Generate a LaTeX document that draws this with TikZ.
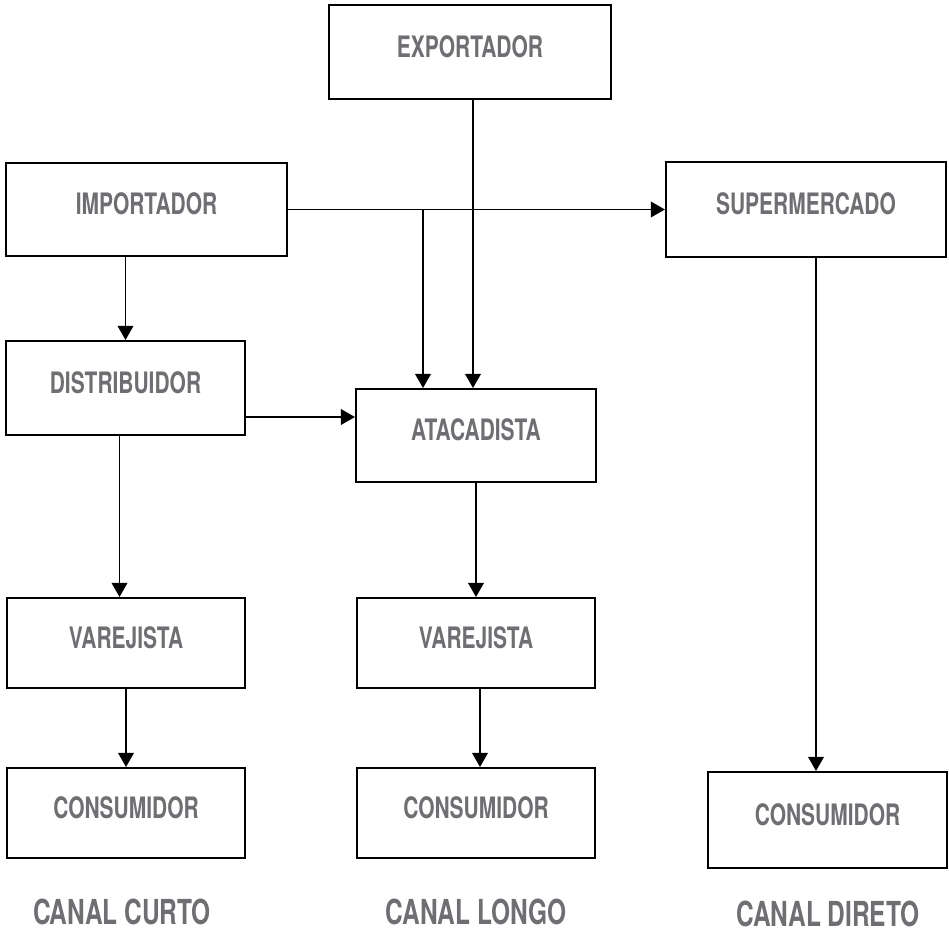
\documentclass[tikz,border=0pt]{standalone}
\usepackage{fontspec}
\setmainfont{TeX Gyre Heros}[FakeStretch=0.71]
\usepackage{tikz}
\usetikzlibrary{arrows.meta, positioning, calc}
\definecolor{txtgray}{RGB}{110,111,114}

\tikzset{
  canalbox/.style={draw, line width=1.4pt, text=txtgray, font=\fontsize{21}{24}\selectfont\bfseries, text depth=8pt, inner sep=0pt},
  canallabel/.style={text=txtgray, font=\fontsize{24.5}{28}\selectfont\bfseries},
  flow/.style={->, line width=1.4pt, >={Triangle[width=11pt,length=10pt]}}
}

\begin{document}
\begin{tikzpicture}[x=0.025cm, y=-0.025cm]
\useasboundingbox (0,0) rectangle (949,936);
% boxes
\node[canalbox, minimum width=7.05cm, minimum height=2.35cm] (exp) at (470,52) {EXPORTADOR};
\node[canalbox, minimum width=7.025cm, minimum height=2.325cm] (imp) at (146.5,209.5) {IMPORTADOR};
\node[canalbox, minimum width=7cm, minimum height=2.375cm] (sup) at (806,209.5) {SUPERMERCADO};
\node[canalbox, minimum width=5.975cm, minimum height=2.35cm] (dist) at (125.5,388) {DISTRIBUIDOR};
\node[canalbox, minimum width=6cm, minimum height=2.325cm] (ata) at (476,435.5) {ATACADISTA};
\node[canalbox, minimum width=5.95cm, minimum height=2.25cm] (varA) at (126,643) {VAREJISTA};
\node[canalbox, minimum width=5.95cm, minimum height=2.25cm] (varB) at (476,643) {VAREJISTA};
\node[canalbox, minimum width=5.95cm, minimum height=2.25cm] (conA) at (126,813) {CONSUMIDOR};
\node[canalbox, minimum width=5.95cm, minimum height=2.25cm] (conB) at (476,813) {CONSUMIDOR};
\node[canalbox, minimum width=5.975cm, minimum height=2.4cm] (conC) at (827.5,820) {CONSUMIDOR};

% channel names
\node[canallabel] (curto) at (122,912) {CANAL CURTO};
\node[canallabel] (longo) at (476,912) {CANAL LONGO};
\node[canallabel] (direto) at (828,914) {CANAL DIRETO};

% arrows
\draw[flow] (imp.east) -- (sup.west);
\coordinate (split) at (423,209.5);
\draw[flow] (split) -- (split |- ata.north);
\draw[flow] ([xshift=0.075cm]exp.south) -- ([xshift=0.075cm]exp.south |- ata.north);
\draw[flow] (imp.south -| dist.north) -- (dist.north);
\draw[flow] ([yshift=-0.725cm]dist.east) -- ([yshift=-0.725cm]dist.east -| ata.west);
\draw[flow] ([xshift=-0.15cm]dist.south) -- ([xshift=-0.15cm]dist.south |- varA.north);
\draw[flow] (varA.south) -- (conA.north);
\draw[flow] (ata.south) -- (ata.south |- varB.north);
\draw[flow] ([xshift=0.1cm]varB.south) -- ([xshift=0.1cm]conB.north);
\draw[flow] ([xshift=0.25cm]sup.south) -- ([xshift=0.25cm]sup.south |- conC.north);
\end{tikzpicture}
\end{document}
